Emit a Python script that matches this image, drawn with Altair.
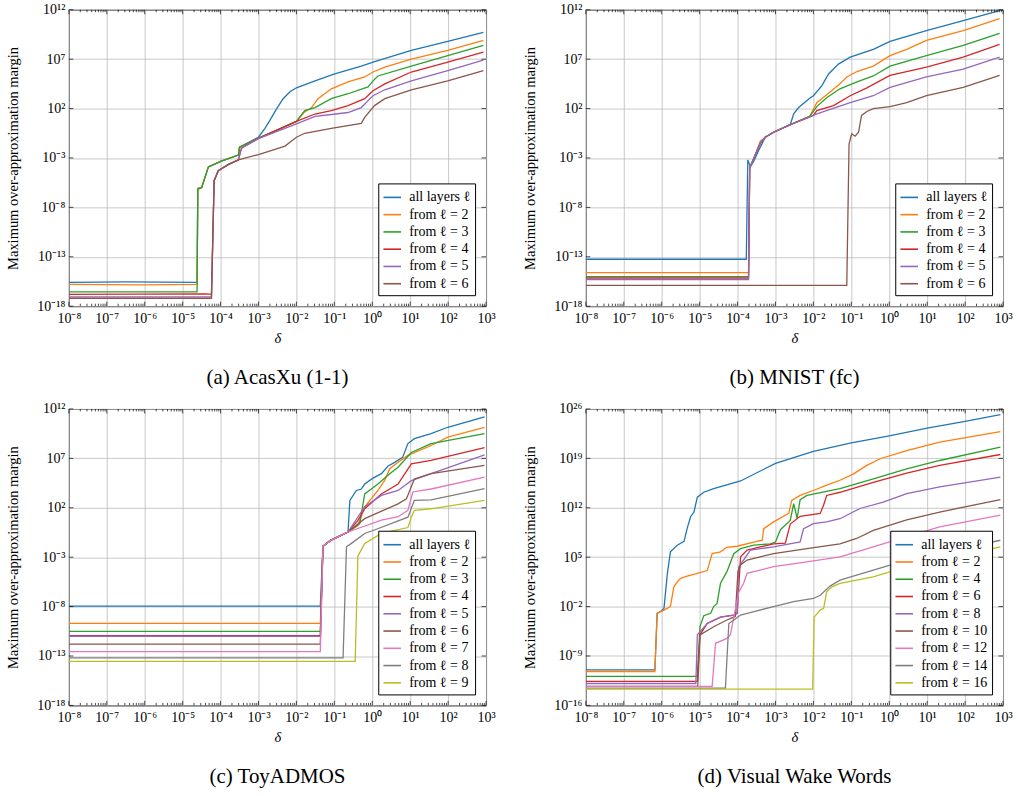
import altair as alt
import pandas as pd

FONT = "Liberation Serif"
W, H = 418, 297
COLORS = ["#1f77b4", "#ff7f0e", "#2ca02c", "#d62728", "#9467bd",
          "#8c564b", "#e377c2", "#7f7f7f", "#bcbd22"]

SUP = {"0": "⁰", "1": "¹", "2": "²", "3": "³", "4": "⁴", "5": "⁵",
       "6": "⁶", "7": "⁷", "8": "⁸", "9": "⁹", "-": "⁻"}

# ---- axis ticks (decade exponents) ----
X_TICK_EXPS = [-8, -7, -6, -5, -4, -3, -2, -1, 0, 1, 2, 3]
Y_TICK_EXPS_ABC = [-18, -13, -8, -3, 2, 7, 12]
Y_TICK_EXPS_D = [-16, -9, -2, 5, 12, 19, 26]
X_MINOR_MULT = [2, 3, 4, 5, 6, 7, 8, 9]

# ---- series points: (log10 delta, log10 margin) ----
# (a) AcasXu (1-1)
A_NAMES = ["all layers ℓ", "from ℓ = 2", "from ℓ = 3", "from ℓ = 4",
           "from ℓ = 5", "from ℓ = 6"]
A_ALL = [(-8, -15.6), (-6.5, -15.55), (-4.62, -15.6), (-4.6, -6.1), (-4.5, -6.0), (-4.32, -3.9),
         (-4.14, -3.6), (-4.0, -3.35), (-3.53, -2.7), (-3.5, -1.9), (-3.0, -0.9), (-2.83, 0.0),
         (-2.7, 0.8), (-2.52, 2.0), (-2.35, 3.0), (-2.17, 3.7), (-2.0, 4.1), (-1.51, 4.8),
         (-0.99, 5.5), (-0.29, 6.3), (0.02, 6.7), (1.03, 7.9), (1.99, 8.8), (2.93, 9.7)]
A_L2 = [(-8, -15.8), (-6.0, -15.85), (-4.62, -15.8), (-4.6, -6.2), (-4.5, -6.0), (-4.32, -3.9),
        (-4.14, -3.6), (-4.0, -3.35), (-3.53, -2.7), (-3.5, -1.9), (-3.0, -1.0), (-2.5, -0.15),
        (-2.0, 0.7), (-1.8, 1.6), (-1.6, 2.1), (-1.43, 3.0), (-1.08, 4.0), (-0.64, 4.7),
        (-0.2, 5.2), (0.02, 5.7), (0.33, 6.2), (1.03, 7.0), (1.99, 7.9), (2.93, 8.9)]
A_L3 = [(-8, -16.55), (-4.62, -16.55), (-4.6, -6.1), (-4.5, -6.0), (-4.32, -3.9), (-4.14, -3.6),
        (-4.0, -3.35), (-3.53, -2.7), (-3.5, -1.9), (-3.0, -1.0), (-2.5, -0.15), (-2.0, 0.7),
        (-1.78, 1.8), (-1.51, 2.1), (-1.08, 3.0), (-0.64, 3.5), (-0.11, 4.2), (0.02, 4.8),
        (0.15, 5.3), (1.03, 6.3), (1.99, 7.35), (2.93, 8.4)]
A_L4 = [(-8, -16.8), (-4.4, -16.75), (-4.24, -16.8), (-4.17, -5.3), (-4.06, -4.3), (-3.79, -3.65),
        (-3.53, -3.2), (-3.45, -2.0), (-3.0, -1.0), (-2.5, -0.15), (-2.0, 0.7), (-1.51, 1.45),
        (-1.08, 1.8), (-0.64, 2.3), (-0.2, 3.0), (0.02, 3.8), (0.33, 4.5), (1.03, 5.7),
        (1.99, 6.7), (2.93, 7.7)]
A_L5 = [(-8, -17.05), (-4.24, -17.05), (-4.17, -5.3), (-4.06, -4.3), (-3.79, -3.65), (-3.53, -3.2),
        (-3.45, -2.0), (-3.0, -1.05), (-2.0, 0.45), (-1.51, 1.2), (-1.08, 1.4), (-0.64, 1.6),
        (-0.29, 2.1), (-0.11, 2.8), (0.02, 3.3), (0.33, 3.9), (1.03, 4.8), (1.99, 5.85),
        (2.93, 6.9)]
A_L6 = [(-8, -17.2), (-4.24, -17.2), (-4.17, -5.3), (-4.06, -4.3), (-3.79, -3.65), (-3.53, -3.2),
        (-3.0, -2.65), (-2.3, -1.8), (-2.17, -1.4), (-2.0, -0.9), (-1.78, -0.5), (-1.08, 0.0),
        (-0.29, 0.5), (-0.2, 1.1), (0.06, 2.3), (0.33, 3.0), (1.03, 3.9), (1.99, 4.8),
        (2.93, 5.85)]

# (b) MNIST (fc)
B_NAMES = A_NAMES
B_ALL = [(-8, -13.25), (-3.77, -13.25), (-3.73, -3.2), (-3.66, -3.9), (-3.57, -3.3), (-3.4, -1.9),
         (-3.27, -0.9), (-3.05, -0.4), (-2.61, 0.38), (-2.52, 1.46), (-2.39, 2.1), (-2.08, 3.1),
         (-2.0, 3.3), (-1.78, 4.3), (-1.6, 5.5), (-1.34, 6.5), (-1.03, 7.2), (-0.42, 8.0),
         (0.02, 8.8), (0.98, 9.9), (1.95, 10.9), (2.91, 11.9)]
B_L2 = [(-8, -14.6), (-3.71, -14.6), (-3.68, -4.0), (-3.6, -3.3), (-3.4, -1.3), (-3.27, -0.9),
        (-3.05, -0.4), (-2.61, 0.38), (-2.1, 1.2), (-1.91, 2.6), (-1.78, 3.0), (-1.52, 3.8),
        (-1.3, 4.5), (-1.12, 5.2), (-0.85, 5.75), (-0.42, 6.3), (0.02, 7.35), (0.46, 8.0),
        (0.98, 8.9), (1.95, 9.9), (2.91, 11.1)]
B_L3 = [(-8, -15.0), (-3.71, -15.0), (-3.68, -4.0), (-3.6, -3.3), (-3.4, -1.5), (-3.27, -0.9),
        (-3.05, -0.4), (-2.61, 0.38), (-2.1, 1.2), (-1.91, 2.2), (-1.65, 3.1), (-1.3, 4.0),
        (-0.85, 4.7), (-0.42, 5.3), (0.02, 6.3), (0.98, 7.35), (1.95, 8.4), (2.91, 9.6)]
B_L4 = [(-8, -15.15), (-3.71, -15.15), (-3.68, -4.0), (-3.6, -3.3), (-3.4, -1.5), (-3.27, -0.9),
        (-3.05, -0.4), (-2.61, 0.38), (-2.0, 1.3), (-1.91, 1.8), (-1.47, 2.3), (-1.03, 3.3),
        (-0.59, 4.1), (0.02, 5.35), (0.98, 6.2), (1.95, 7.2), (2.91, 8.5)]
B_L5 = [(-8, -15.3), (-3.71, -15.3), (-3.68, -4.0), (-3.6, -3.3), (-3.4, -1.5), (-3.27, -0.9),
        (-3.05, -0.4), (-2.61, 0.38), (-2.0, 1.3), (-1.91, 1.46), (-1.03, 2.6), (-0.42, 3.3),
        (0.02, 4.15), (0.98, 5.2), (1.95, 6.0), (2.91, 7.2)]
B_L6 = [(-8, -15.9), (-1.12, -15.9), (-1.06, -1.6), (-0.99, -0.55), (-0.9, -0.8), (-0.81, -0.4),
        (-0.73, 1.3), (-0.59, 1.7), (-0.42, 2.0), (0.02, 2.2), (0.46, 2.6), (0.98, 3.3),
        (1.95, 4.15), (2.91, 5.35)]

# (c) ToyADMOS
C_NAMES = ["all layers ℓ", "from ℓ = 2", "from ℓ = 3", "from ℓ = 4", "from ℓ = 5",
           "from ℓ = 6", "from ℓ = 7", "from ℓ = 8", "from ℓ = 9"]
C_ALL = [(-8, -7.95), (-1.37, -7.95), (-1.3, -1.9), (-1.1, -1.3), (-0.64, -0.45), (-0.59, 2.75),
         (-0.42, 3.75), (-0.29, 3.9), (-0.2, 4.4), (0.02, 5.0), (0.24, 5.45), (0.41, 6.2),
         (0.59, 6.6), (0.8, 7.1), (0.94, 8.5), (1.11, 9.0), (1.55, 9.5), (1.99, 10.15), (2.96, 11.2)]
C_L2 = [(-8, -9.7), (-1.37, -9.7), (-1.3, -1.9), (-1.1, -1.3), (-0.64, -0.45), (-0.38, 0.2),
        (-0.2, 2.1), (0.15, 3.75), (0.33, 4.8), (0.46, 5.95), (0.68, 6.6), (0.94, 7.3),
        (1.55, 8.3), (1.99, 9.15), (2.96, 10.15)]
C_L3 = [(-8, -10.5), (-1.37, -10.5), (-1.3, -1.9), (-1.1, -1.3), (-0.64, -0.45), (-0.33, 0.4),
        (-0.2, 3.4), (0.15, 4.4), (0.46, 5.45), (0.68, 6.1), (1.03, 7.6), (1.55, 8.5), (2.96, 9.5)]
C_L4 = [(-8, -10.95), (-1.37, -10.95), (-1.3, -1.9), (-1.1, -1.3), (-0.64, -0.45), (-0.38, 0.7),
        (-0.2, 1.9), (0.24, 3.4), (0.68, 4.4), (1.03, 6.45), (1.55, 6.8), (2.96, 8.1)]
C_L5 = [(-8, -11.0), (-1.37, -11.0), (-1.3, -1.9), (-1.1, -1.3), (-0.64, -0.45), (-0.2, 2.1),
        (0.24, 3.25), (0.68, 3.75), (1.03, 4.75), (1.55, 5.45), (2.96, 7.35)]
C_L6 = [(-8, -11.8), (-1.37, -11.8), (-1.3, -1.9), (-1.1, -1.3), (-0.64, -0.45), (-0.2, 0.9),
        (0.68, 2.4), (0.9, 2.9), (1.11, 4.9), (1.55, 5.45), (2.96, 6.3)]
C_L7 = [(-8, -12.55), (-1.37, -12.55), (-1.3, -1.9), (-1.1, -1.3), (-0.64, -0.45), (0.24, 0.75),
        (0.68, 1.1), (0.94, 1.75), (1.07, 3.6), (1.55, 3.9), (2.96, 5.1)]
C_L8 = [(-8, -13.2), (-0.77, -13.2), (-0.68, -1.95), (-0.55, -1.6), (-0.2, -0.6), (0.02, -0.3),
        (0.94, 1.05), (1.11, 2.75), (1.55, 2.8), (2.96, 3.95)]
C_L9 = [(-8, -13.55), (-0.45, -13.55), (-0.38, -2.9), (-0.2, -1.6), (0.24, -0.6), (0.94, 0.0),
        (1.03, 1.05), (1.11, 1.75), (1.55, 1.9), (2.96, 2.75)]

# (d) Visual Wake Words
D_NAMES = ["all layers ℓ", "from ℓ = 2", "from ℓ = 4", "from ℓ = 6", "from ℓ = 8",
           "from ℓ = 10", "from ℓ = 12", "from ℓ = 14", "from ℓ = 16"]
D_ALL = [(-8, -10.96), (-6.18, -10.96), (-6.12, -2.95), (-6.03, -2.7), (-5.94, -2.25), (-5.85, 2.7),
         (-5.77, 5.75), (-5.59, 6.7), (-5.41, 7.25), (-5.33, 9.05), (-5.24, 10.7), (-5.15, 11.4),
         (-5.06, 13.5), (-4.89, 14.2), (-4.63, 14.7), (-3.92, 15.8), (-3.0, 18.3), (-2.0, 20.0),
         (-1.0, 21.2), (0.0, 22.2), (1.0, 23.3), (2.0, 24.25), (2.93, 25.2)]
D_L2 = [(-8, -11.2), (-6.18, -11.2), (-6.12, -2.95), (-5.94, -2.5), (-5.77, -2.0), (-5.68, 0.8),
        (-5.59, 1.5), (-5.5, 2.0), (-5.33, 2.3), (-5.06, 2.7), (-4.8, 3.1), (-4.67, 5.5),
        (-4.45, 5.75), (-4.28, 6.4), (-4.01, 6.55), (-3.57, 7.15), (-3.35, 7.4), (-3.31, 9.05),
        (-3.05, 10.0), (-2.65, 11.2), (-2.57, 13.05), (-2.35, 13.75), (-2.0, 14.45), (-1.65, 15.2),
        (-1.3, 15.9), (-0.94, 16.8), (-0.59, 18.0), (-0.24, 18.95), (0.46, 20.1), (1.33, 21.3),
        (2.93, 22.8)]
D_L4 = [(-8, -11.9), (-5.06, -11.9), (-4.99, -4.8), (-4.89, -3.3), (-4.71, -2.95), (-4.63, -2.0),
        (-4.54, -1.55), (-4.45, 1.3), (-4.28, 2.95), (-4.1, 5.5), (-3.92, 6.2), (-3.57, 6.7),
        (-3.14, 6.9), (-3.0, 7.15), (-2.87, 8.9), (-2.61, 10.2), (-2.52, 12.6), (-2.43, 10.5),
        (-2.35, 13.15), (-2.17, 13.75), (-1.3, 14.7), (-0.42, 16.1), (0.46, 17.5), (1.33, 18.7),
        (2.93, 20.6)]
D_L6 = [(-8, -12.6), (-5.06, -12.6), (-4.99, -6.0), (-4.8, -4.4), (-4.45, -3.5), (-4.1, -3.2),
        (-4.01, -2.95), (-3.92, 5.05), (-3.75, 6.0), (-3.4, 6.45), (-3.05, 6.9), (-2.74, 7.0),
        (-2.61, 9.7), (-2.35, 10.8), (-1.82, 11.2), (-1.73, 12.4), (-1.65, 13.75), (-1.3, 14.2),
        (-0.42, 15.6), (0.46, 16.9), (1.33, 18.0), (2.93, 19.55)]
D_L8 = [(-8, -12.9), (-5.1, -12.9), (-5.06, -6.0), (-4.8, -4.4), (-4.45, -3.5), (-4.1, -3.2),
        (-4.01, -2.95), (-3.97, 3.6), (-3.66, 6.0), (-3.4, 6.2), (-3.05, 6.45), (-2.35, 7.15),
        (-2.26, 9.05), (-2.0, 9.75), (-1.65, 10.0), (-1.3, 10.45), (-0.77, 11.9), (-0.16, 12.8),
        (0.46, 14.0), (1.33, 14.95), (2.93, 16.35)]
D_L10 = [(-8, -13.3), (-5.05, -13.3), (-4.99, -6.0), (-4.63, -4.85), (-4.28, -3.9), (-4.06, -3.4),
         (-3.99, 2.95), (-3.92, 3.9), (-3.75, 4.6), (-3.4, 5.05), (-3.05, 5.5), (-2.17, 6.2),
         (-1.3, 6.9), (-0.86, 7.65), (-0.42, 8.8), (0.46, 10.3), (1.33, 11.4), (2.93, 13.15)]
D_L12 = [(-8, -13.3), (-4.67, -13.3), (-4.58, -7.2), (-4.28, -6.5), (-4.19, -6.0), (-3.97, 0.0),
         (-3.84, 1.3), (-3.75, 2.7), (-3.05, 3.65), (-2.17, 4.35), (-1.3, 5.05), (-0.42, 6.45),
         (0.46, 7.9), (1.33, 9.3), (2.93, 10.95)]
D_L14 = [(-8, -13.55), (-4.32, -13.55), (-4.23, -4.4), (-4.1, -3.9), (-3.92, -3.2), (-3.49, -2.6),
         (-3.05, -2.0), (-2.52, -1.3), (-2.0, -0.85), (-1.82, -0.4), (-1.56, 0.9), (-1.3, 1.75),
         (-0.42, 3.15), (0.46, 4.6), (2.93, 7.4)]
D_L16 = [(-8, -13.7), (-2.02, -13.7), (-1.98, -3.5), (-1.82, -2.5), (-1.73, -2.25), (-1.65, 0.1),
         (-1.51, 0.8), (-1.3, 1.3), (-0.42, 2.2), (0.46, 3.65), (2.93, 6.45)]

CAPTIONS = ["(a) AcasXu (1-1)", "(b) MNIST (fc)", "(c) ToyADMOS", "(d) Visual Wake Words"]


def sup_label(e):
    return "10" + "".join(SUP[c] for c in str(e))


def label_expr(exps):
    key = "round(log(datum.value)/LN10)"
    parts = [f"{key} == {e} ? '{sup_label(e)}'" for e in exps]
    return " : ".join(parts) + " : ''"


def panel(names, series, yexps, caption):
    rows = []
    for name, pts in zip(names, series):
        for i, (lx, ly) in enumerate(pts):
            rows.append({"series": name, "i": i, "delta": 10.0 ** lx, "margin": 10.0 ** ly})
    df = pd.DataFrame(rows)
    xscale = alt.Scale(type="log", domain=[1e-8, 1e3], nice=False)
    yscale = alt.Scale(type="log", domain=[10.0 ** yexps[0], 10.0 ** yexps[-1]], nice=False)
    xmajor = [10.0 ** e for e in X_TICK_EXPS]
    xminor = [m * 10.0 ** e for e in X_TICK_EXPS[:-1] for m in X_MINOR_MULT]
    ymajor = [10.0 ** e for e in yexps]

    lines = alt.Chart(df).mark_line(strokeWidth=1.3, clip=True).encode(
        x=alt.X("delta:Q", scale=xscale,
                axis=alt.Axis(values=xmajor, labelExpr=label_expr(X_TICK_EXPS), grid=True,
                              ticks=False, domain=False, title="δ", titleFontStyle="italic",
                              labelFlush=False, labelOverlap=False, labelPadding=5,
                              titlePadding=6, labelFont=FONT, titleFont=FONT)),
        y=alt.Y("margin:Q", scale=yscale,
                axis=alt.Axis(values=ymajor, labelExpr=label_expr(yexps), grid=True,
                              ticks=False, domain=False,
                              title="Maximum over-approximation margin",
                              labelFlush=False, labelOverlap=False, labelPadding=4,
                              titlePadding=16, labelFont=FONT, titleFont=FONT)),
        color=alt.Color("series:N", sort=names,
                        scale=alt.Scale(domain=names, range=COLORS[:len(names)]),
                        legend=alt.Legend(title=None, orient="bottom-right", offset=11,
                                          fillColor="white", strokeColor="black", padding=4,
                                          labelFont=FONT, labelFontSize=14, labelLimit=200,
                                          labelOffset=7,
                                          symbolType="stroke", symbolSize=310,
                                          symbolStrokeWidth=1.6, rowPadding=0.3,
                                          cornerRadius=0)),
        order="i:Q",
    )
    xmin_df = pd.DataFrame({"delta": xminor})
    xmaj_df = pd.DataFrame({"delta": xmajor})
    ymaj_df = pd.DataFrame({"margin": ymajor})
    tick = dict(color="black", strokeWidth=0.7)
    layers = [lines]
    for dfx, ln in ((xmin_df, 2.5), (xmaj_df, 4.5)):
        layers.append(alt.Chart(dfx).mark_rule(**tick).encode(
            x="delta:Q", y=alt.value(H), y2=alt.value(H - ln)))
        layers.append(alt.Chart(dfx).mark_rule(**tick).encode(
            x="delta:Q", y=alt.value(0), y2=alt.value(ln)))
    layers.append(alt.Chart(ymaj_df).mark_rule(**tick).encode(
        y="margin:Q", x=alt.value(0), x2=alt.value(4.5)))
    layers.append(alt.Chart(ymaj_df).mark_rule(**tick).encode(
        y="margin:Q", x=alt.value(W), x2=alt.value(W - 4.5)))
    return alt.layer(*layers).properties(
        width=W, height=H,
        title=alt.TitleParams(caption, orient="bottom", anchor="middle", fontSize=21,
                              font=FONT, fontWeight="normal", offset=22, color="black"))


pa = panel(A_NAMES, [A_ALL, A_L2, A_L3, A_L4, A_L5, A_L6], Y_TICK_EXPS_ABC, CAPTIONS[0])
pb = panel(B_NAMES, [B_ALL, B_L2, B_L3, B_L4, B_L5, B_L6], Y_TICK_EXPS_ABC, CAPTIONS[1])
pc = panel(C_NAMES, [C_ALL, C_L2, C_L3, C_L4, C_L5, C_L6, C_L7, C_L8, C_L9],
           Y_TICK_EXPS_ABC, CAPTIONS[2])
pd_ = panel(D_NAMES, [D_ALL, D_L2, D_L4, D_L6, D_L8, D_L10, D_L12, D_L14, D_L16],
            Y_TICK_EXPS_D, CAPTIONS[3])

top = alt.hconcat(pa, pb, spacing=26).resolve_scale(color="independent", x="independent", y="independent")
bottom = alt.hconcat(pc, pd_, spacing=26).resolve_scale(color="independent", x="independent", y="independent")

chart = alt.vconcat(top, bottom, spacing=13).resolve_scale(
    color="independent", x="independent", y="independent"
).properties(
    padding={"left": 5, "top": 1, "right": 5, "bottom": 5}
).configure(font=FONT).configure_view(
    stroke="black", strokeWidth=1
).configure_axis(
    labelFont=FONT, labelFontSize=14, labelColor="black",
    titleFont=FONT, titleFontSize=14.5, titleFontWeight="normal", titleColor="black",
    gridColor="#bababa", gridWidth=0.8,
)

chart.save("out.html", embed_options={"renderer": "svg", "actions": False})
